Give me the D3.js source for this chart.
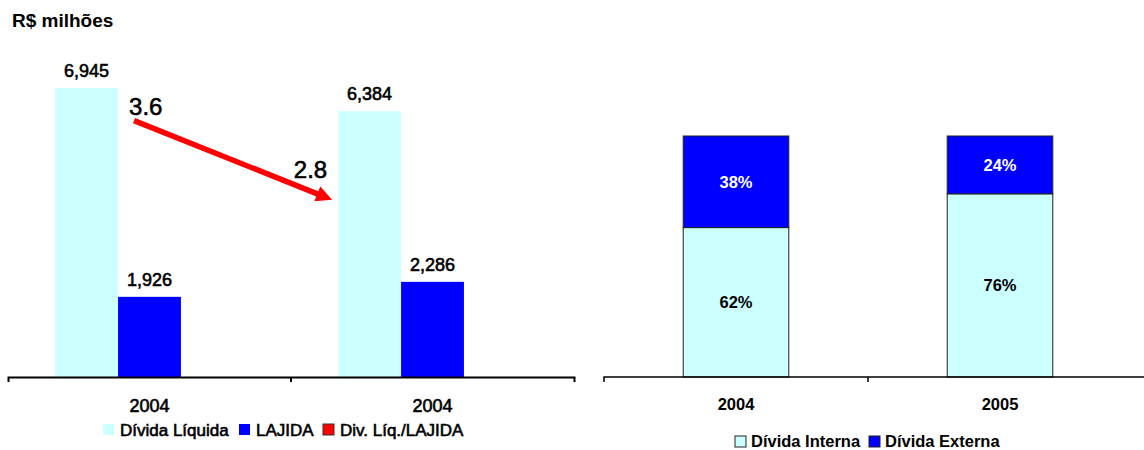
<!DOCTYPE html>
<html>
<head>
<meta charset="utf-8">
<script src="https://cdn.jsdelivr.net/npm/d3@7"></script>
<style>
  body { margin: 0; background: #fff; }
  text { font-family: "Liberation Sans", Arial, sans-serif; }
  .heavy { stroke: #000; stroke-width: 0.6px; }
</style>
</head>
<body>
<svg id="chart" width="1144" height="450"></svg>
<script>
// left panel: net debt vs EBITDA (R$ millions)
const years = ["2004", "2004"];
const seriesNames = ["Dívida Líquida", "LAJIDA", "Div. Líq./LAJIDA"];
const dividaLiquida = [6945, 6384];
const lajida = [1926, 2286];
const ratio = [3.6, 2.8];

// right panel: debt mix (%)
const mixYears = ["2004", "2005"];
const mixNames = ["Dívida Interna", "Dívida Externa"];
const interna = [62, 76];
const externa = [38, 24];

const colors = { light: "#CCFFFF", blue: "#0000FF", red: "#FF0000" };
const font = '"Liberation Sans", Arial, sans-serif';

const svg = d3.select("#chart");

svg.append("text")
  .attr("x", 12).attr("y", 27)
  .attr("font-size", 19).attr("font-weight", "bold")
  .text("R$ milhões");

// ---------- left chart ----------
const baseY = 377;
const x0 = d3.scaleBand().domain(d3.range(years.length)).range([8, 574]);
const x1 = d3.scaleBand().domain(seriesNames).range([0, x0.bandwidth()]).paddingOuter(0.75);
const y = d3.scaleLinear().domain([0, 8000]).range([baseY, 44]);
// secondary scale for the ratio (the arrow annotation)
const yR = d3.scaleLinear().domain([2, 4]).range([279, 81]);

const left = svg.append("g");
const barSeries = [
  { name: seriesNames[0], values: dividaLiquida, color: colors.light },
  { name: seriesNames[1], values: lajida, color: colors.blue },
];

barSeries.forEach((s) => {
  left.selectAll(null)
    .data(s.values)
    .join("rect")
    .attr("x", (d, i) => x0(i) + x1(s.name))
    .attr("y", (d) => y(d))
    .attr("width", x1.bandwidth())
    .attr("height", (d) => baseY - y(d))
    .attr("fill", s.color);

  left.selectAll(null)
    .data(s.values)
    .join("text")
    .attr("class", "heavy")
    .attr("x", (d, i) => x0(i) + x1(s.name) + x1.bandwidth() / 2)
    .attr("y", (d) => y(d) - 11)
    .attr("text-anchor", "middle")
    .attr("font-size", 18)
    .text((d) => d3.format(",")(d));
});

// axis
const axL = left.append("g")
  .attr("transform", `translate(0,${baseY})`)
  .call(d3.axisBottom(x0).tickSizeInner(0).tickSizeOuter(5).tickPadding(22).tickFormat((i) => years[i]));
axL.select(".domain").attr("stroke", "#000").attr("stroke-width", 2);
axL.selectAll(".tick text")
  .attr("class", "heavy")
  .attr("font-size", 18).attr("font-family", font).attr("fill", "#000");
axL.append("line")
  .attr("x1", x0(1)).attr("x2", x0(1)).attr("y1", 0).attr("y2", 5)
  .attr("stroke", "#000").attr("stroke-width", 2);

// ratio arrow
const p0 = [x0(0) + x1(seriesNames[1]) + 16, yR(ratio[0])];
const p1 = [x0(1) + x1(seriesNames[0]) - 6, yR(ratio[1])];
const dx = p1[0] - p0[0], dy = p1[1] - p0[1];
const len = Math.hypot(dx, dy);
const ux = dx / len, uy = dy / len;
const headLen = 16, headHalf = 8;
const bx = p1[0] - ux * headLen, by = p1[1] - uy * headLen;
left.append("line")
  .attr("x1", p0[0]).attr("y1", p0[1])
  .attr("x2", bx + ux * 2).attr("y2", by + uy * 2)
  .attr("stroke", colors.red).attr("stroke-width", 5.5);
left.append("path")
  .attr("d", d3.line()([
    p1,
    [bx - uy * headHalf, by + ux * headHalf],
    [bx + uy * headHalf, by - ux * headHalf],
  ]) + "Z")
  .attr("fill", colors.red);

left.append("text")
  .attr("class", "heavy")
  .attr("x", p0[0] - 5).attr("y", yR(ratio[0]) - 6)
  .attr("font-size", 24)
  .text(ratio[0].toFixed(1));
left.append("text")
  .attr("class", "heavy")
  .attr("x", p1[0] - 5).attr("y", yR(ratio[1]) - 22)
  .attr("font-size", 24).attr("text-anchor", "end")
  .text(ratio[1].toFixed(1));

// legend
const legL = [
  { x: 103, color: colors.light, stroke: "none" },
  { x: 239, color: colors.blue, stroke: "none" },
  { x: 323, color: colors.red, stroke: "#333" },
];
legL.forEach((l, i) => {
  left.append("rect")
    .attr("x", l.x).attr("y", 424).attr("width", 11).attr("height", 11)
    .attr("fill", l.color).attr("stroke", l.stroke);
  left.append("text")
    .attr("class", "heavy")
    .attr("x", l.x + 17).attr("y", 436)
    .attr("font-size", 17)
    .text(seriesNames[i]);
});

// ---------- right chart ----------
const xr = d3.scaleBand().domain(d3.range(mixYears.length)).range([604, 1132]);
const yr = d3.scaleLinear().domain([0, 100]).range([baseY, 136]);
const barW = xr.bandwidth() * 0.4;

const mixRows = mixYears.map((yr_, i) => ({ [mixNames[0]]: interna[i], [mixNames[1]]: externa[i] }));
const stack = d3.stack().keys(mixNames)(mixRows);
const mixColors = [colors.light, colors.blue];
const mixText = ["#000", "#fff"];

const right = svg.append("g");
stack.forEach((layer, k) => {
  right.selectAll(null)
    .data(layer)
    .join("rect")
    .attr("x", (d, i) => xr(i) + (xr.bandwidth() - barW) / 2)
    .attr("y", (d) => yr(d[1]))
    .attr("width", barW)
    .attr("height", (d) => yr(d[0]) - yr(d[1]))
    .attr("fill", mixColors[k])
    .attr("stroke", "#222")
    .attr("stroke-width", 1);

  right.selectAll(null)
    .data(layer)
    .join("text")
    .attr("x", (d, i) => xr(i) + xr.bandwidth() / 2)
    .attr("y", (d) => (yr(d[0]) + yr(d[1])) / 2)
    .attr("dy", "0.36em")
    .attr("text-anchor", "middle")
    .attr("font-size", 16.5).attr("font-weight", "bold")
    .attr("fill", mixText[k])
    .text((d) => (d[1] - d[0]) + "%");
});

const axR = right.append("g")
  .attr("transform", `translate(0,${baseY})`)
  .call(d3.axisBottom(xr).tickSize(0).tickPadding(21).tickFormat((i) => mixYears[i]));
axR.select(".domain").remove();
axR.selectAll(".tick text").attr("font-size", 16.5).attr("font-weight", "bold").attr("font-family", font).attr("fill", "#000");
axR.append("path")
  .attr("d", `M${xr.range()[0]},5V0H1144`)
  .attr("fill", "none").attr("stroke", "#000").attr("stroke-width", 1.5);
axR.append("line")
  .attr("x1", xr(1)).attr("x2", xr(1)).attr("y1", 0).attr("y2", 5)
  .attr("stroke", "#000").attr("stroke-width", 1.5);

const legR = [{ x: 735 }, { x: 869 }];
legR.forEach((l, i) => {
  right.append("rect")
    .attr("x", l.x).attr("y", 436).attr("width", 11).attr("height", 11)
    .attr("fill", mixColors[i]).attr("stroke", "#222");
  right.append("text")
    .attr("x", l.x + 16).attr("y", 447)
    .attr("font-size", 16.5).attr("font-weight", "bold")
    .text(mixNames[i]);
});
</script>
</body>
</html>
